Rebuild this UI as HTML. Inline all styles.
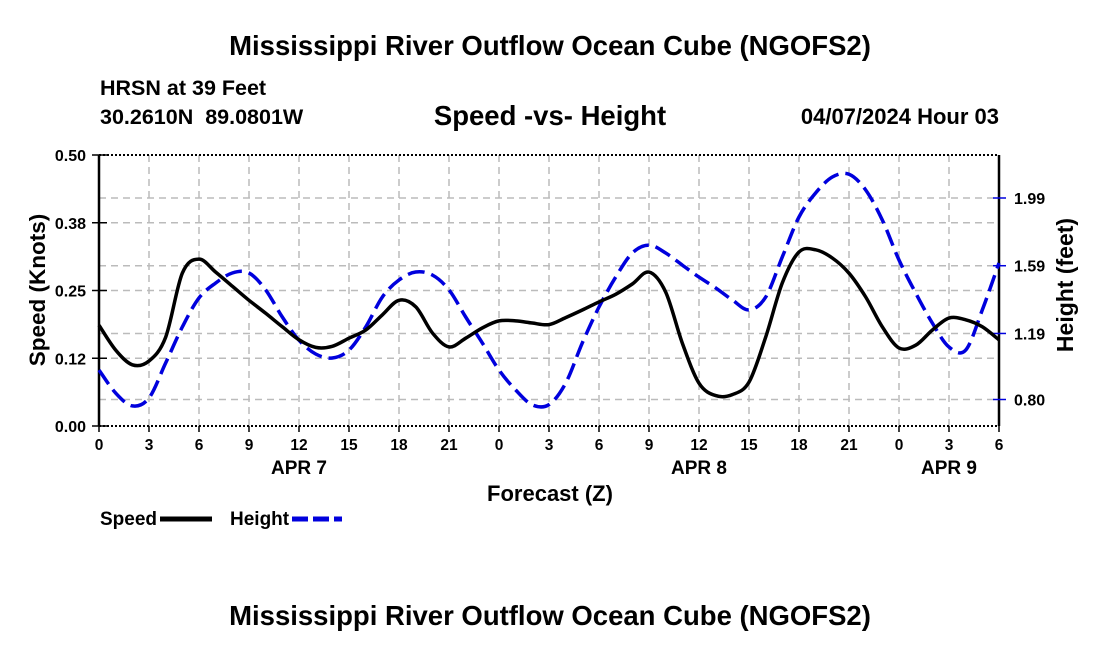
<!DOCTYPE html>
<html><head><meta charset="utf-8"><style>
html,body{margin:0;padding:0;background:#fff;width:1100px;height:650px;overflow:hidden}
svg text{font-family:"Liberation Sans",Arial,sans-serif;font-weight:bold;fill:#000}
</style></head><body>
<svg id="chart" width="1100" height="650" viewBox="0 0 1100 650" xmlns="http://www.w3.org/2000/svg">
<text x="550" y="55" text-anchor="middle" font-size="27.5">Mississippi River Outflow Ocean Cube (NGOFS2)</text>
<text x="100" y="95" font-size="21.5">HRSN at 39 Feet</text>
<text x="100" y="124" font-size="21.5" xml:space="preserve">30.2610N  89.0801W</text>
<text x="550" y="125" text-anchor="middle" font-size="27.5">Speed -vs- Height</text>
<text x="999" y="124" text-anchor="end" font-size="22">04/07/2024 Hour 03</text>
<g id="grid"></g>
<g id="axes"></g>
<g id="series"></g>
<text transform="translate(45,290) rotate(-90)" text-anchor="middle" font-size="22.5">Speed (Knots)</text>
<text transform="translate(1073,285) rotate(-90)" text-anchor="middle" font-size="23">Height (feet)</text>
<text x="550" y="501" text-anchor="middle" font-size="22">Forecast (Z)</text>
<g>
<text x="100" y="525" font-size="19">Speed</text>
<line x1="160" y1="519" x2="212" y2="519" stroke="#000" stroke-width="5"/>
<text x="230" y="525" font-size="19">Height</text>
<line x1="292" y1="519" x2="342" y2="519" stroke="#0000dd" stroke-width="5" stroke-dasharray="16,5"/>
</g>
<text x="550" y="625" text-anchor="middle" font-size="27.5">Mississippi River Outflow Ocean Cube (NGOFS2)</text>
</svg>
<script>
const hours=[0,1,2,3,4,5,6,7,8,9,10,11,12,13,14,15,16,17,18,19,20,21,22,23,24,25,26,27,28,29,30,31,32,33,34,35,36,37,38,39,40,41,42,43,44,45,46,47,48,49,50,51,52,53,54];
const speed=[0.186,0.14,0.113,0.12,0.164,0.282,0.308,0.284,0.258,0.232,0.208,0.183,0.159,0.145,0.147,0.162,0.177,0.205,0.232,0.22,0.172,0.146,0.162,0.181,0.194,0.194,0.19,0.187,0.2,0.214,0.229,0.243,0.262,0.284,0.247,0.153,0.079,0.056,0.058,0.081,0.164,0.264,0.321,0.325,0.31,0.282,0.238,0.183,0.144,0.149,0.177,0.199,0.196,0.183,0.159];
const height=[0.974,0.838,0.762,0.809,1.016,1.228,1.40,1.488,1.547,1.547,1.447,1.287,1.15,1.069,1.045,1.092,1.228,1.405,1.506,1.553,1.535,1.447,1.287,1.134,0.974,0.856,0.768,0.77,0.897,1.134,1.346,1.523,1.665,1.712,1.665,1.594,1.523,1.459,1.388,1.329,1.405,1.642,1.878,2.02,2.114,2.13,2.037,1.86,1.624,1.429,1.252,1.11,1.092,1.329,1.606];
const xTickLabels=["0","3","6","9","12","15","18","21","0","3","6","9","12","15","18","21","0","3","6"];
const dayLabels=["APR 7","APR 8","APR 9"];
const dayHours=[12,36,51];
const speedTicks=[0,0.125,0.25,0.375,0.5];
const speedTickLabels=["0.00","0.12","0.25","0.38","0.50"];
const heightTicks=[0.80,1.19,1.59,1.99];
const heightTickLabels=["0.80","1.19","1.59","1.99"];
const L=99,R=999,T=155,B=426;
const NS="http://www.w3.org/2000/svg";
const X=h=>L+(h/54)*(R-L);
const YS=v=>B-(v/0.5)*(B-T);
const YH=f=>399.5-(f-0.80)*(201.5/1.19);
function mk(tag,attrs,parent){const e=document.createElementNS(NS,tag);for(const k in attrs)e.setAttribute(k,attrs[k]);parent.appendChild(e);return e;}
const grid=document.getElementById('grid'),axes=document.getElementById('axes'),series=document.getElementById('series');
for(let i=1;i<18;i++){const l=mk('line',{x1:X(i*3),x2:X(i*3),y1:T,y2:B,stroke:'#bbb','stroke-width':1.5,'stroke-dasharray':'7,5'},grid);

}
speedTicks.slice(1,-1).forEach(v=>{const l=mk('line',{x1:L,x2:R,y1:YS(v),y2:YS(v),stroke:'#bbb','stroke-width':1.5,'stroke-dasharray':'7,5'},grid);

});
heightTicks.forEach(v=>{const l=mk('line',{x1:L,x2:R,y1:YH(v),y2:YH(v),stroke:'#bbb','stroke-width':1.5,'stroke-dasharray':'7,5'},grid);

});
let a=mk('line',{x1:L,x2:L,y1:T,y2:B,stroke:'#000','stroke-width':2.5},axes);
a=mk('line',{x1:R,x2:R,y1:T,y2:B,stroke:'#000','stroke-width':2.5},axes);
a=mk('line',{x1:L,x2:R,y1:T,y2:T,stroke:'#000','stroke-width':2,'stroke-dasharray':'2,2'},axes);
a=mk('line',{x1:L,x2:R,y1:B,y2:B,stroke:'#000','stroke-width':2,'stroke-dasharray':'2,2'},axes);
xTickLabels.forEach((s,i)=>{const x=X(i*3);
const t=mk('line',{x1:x,x2:x,y1:B,y2:B+6,stroke:'#000','stroke-width':1.5},axes);


const tx=mk('text',{x:x,y:B+24,'text-anchor':'middle','font-size':15.5},axes);tx.textContent=s;

});
dayLabels.forEach((s,i)=>{const tx=mk('text',{x:X(dayHours[i]),y:474,'text-anchor':'middle','font-size':19},axes);tx.textContent=s;

});
speedTicks.forEach((v,i)=>{const y=YS(v);
const t=mk('line',{x1:L-7,x2:L+8,y1:y,y2:y,stroke:'#000','stroke-width':1.5},axes);


const tx=mk('text',{x:L-13,y:y+6,'text-anchor':'end','font-size':16},axes);tx.textContent=speedTickLabels[i];

});
heightTicks.forEach((v,i)=>{const y=YH(v);
const t=mk('line',{x1:R-6,x2:R+7,y1:y,y2:y,stroke:'#0000dd','stroke-width':1.5},axes);


const tx=mk('text',{x:R+15,y:y+6,'font-size':16},axes);tx.textContent=heightTickLabels[i];

});
function smooth(pts){let d='M'+pts[0][0]+','+pts[0][1];for(let i=0;i<pts.length-1;i++){const p0=pts[Math.max(0,i-1)],p1=pts[i],p2=pts[i+1],p3=pts[Math.min(pts.length-1,i+2)];
const c1=[p1[0]+(p2[0]-p0[0])/6,p1[1]+(p2[1]-p0[1])/6],c2=[p2[0]-(p3[0]-p1[0])/6,p2[1]-(p3[1]-p1[1])/6];
d+=` C${c1[0].toFixed(1)},${c1[1].toFixed(1)} ${c2[0].toFixed(1)},${c2[1].toFixed(1)} ${p2[0].toFixed(1)},${p2[1].toFixed(1)}`;}return d;}
const hp=mk('path',{d:smooth(hours.map((h,i)=>[X(h),YH(height[i])])),fill:'none',stroke:'#0000dd','stroke-width':3.5,'stroke-dasharray':'17,7'},series);


const sp=mk('path',{d:smooth(hours.map((h,i)=>[X(h),YS(speed[i])])),fill:'none',stroke:'#000','stroke-width':3.5},series);


</script>
</body></html>
